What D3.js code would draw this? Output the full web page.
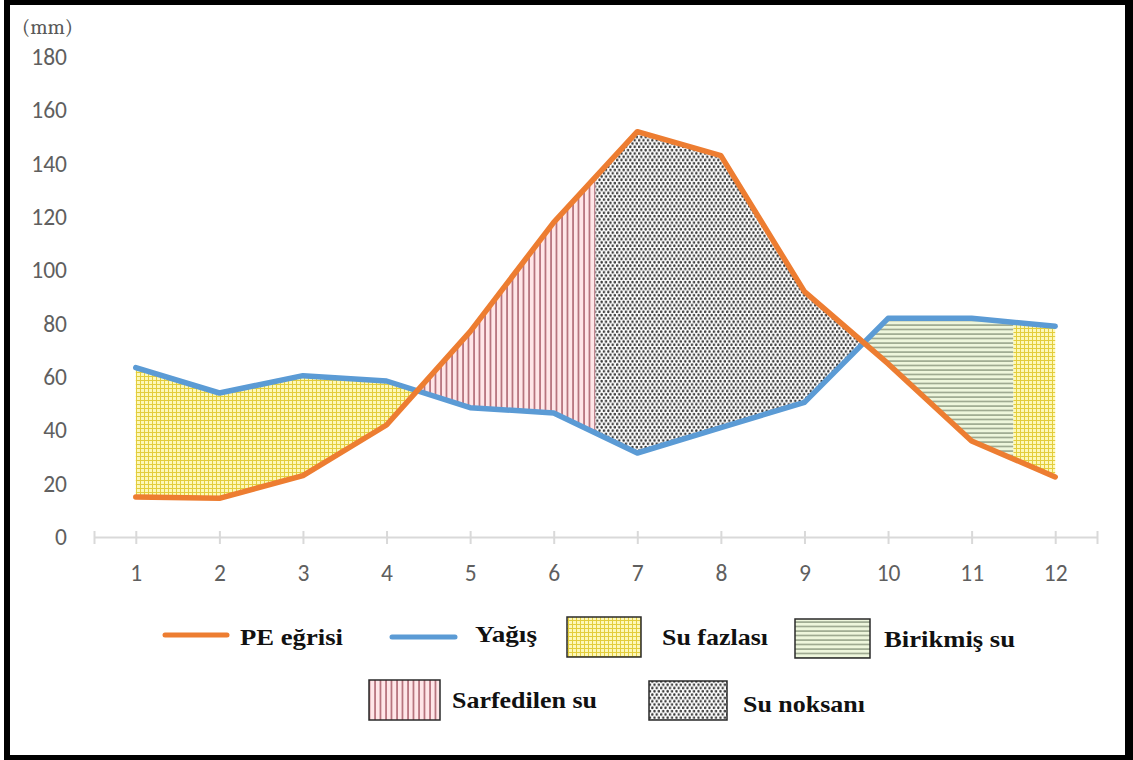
<!DOCTYPE html>
<html>
<head>
<meta charset="utf-8">
<script src="https://cdn.jsdelivr.net/npm/d3@7"></script>
<style>
  body { margin: 0; background: #fff; }
  svg { display: block; }
</style>
</head>
<body>
<svg id="chart" width="1133" height="760"></svg>
<script>
// Monthly water balance (mm)
const months = [1, 2, 3, 4, 5, 6, 7, 8, 9, 10, 11, 12];
const peValues = [15, 14.5, 23, 42, 77, 118, 152, 143, 92, 65, 36, 22.5];
const rainValues = [63.5, 54, 60.5, 58.5, 48.5, 46.5, 31.5, 41, 50.5, 82, 82, 79];
const yTicks = [0, 20, 40, 60, 80, 100, 120, 140, 160, 180];
// month positions where soil water use ends and where storage is full again
const phaseBreaks = [6.5, 11.5];
const unitLabel = "(mm)";
const seriesNames = ["PE eğrisi", "Yağış"];
const zoneNames = { fazla: "Su fazlası", birik: "Birikmiş su", sarf: "Sarfedilen su", noksan: "Su noksanı" };

const W = 1133, H = 760;
const svg = d3.select("#chart");
const defs = svg.append("defs");

const x = d3.scaleLinear().domain([0.5, 12.5]).range([94, 1097]);
const y = d3.scaleLinear().domain([0, 180]).range([537, 57]);

const ORANGE = "#ed7d31", BLUE = "#5b9bd5";
const TICK_FONT = "Carlito, Calibri, Lato, sans-serif";

// ---- fill patterns ----
function pattern(id, w, h, bg) {
  const p = defs.append("pattern").attr("id", id).attr("patternUnits", "userSpaceOnUse")
    .attr("width", w).attr("height", h);
  p.append("rect").attr("width", w).attr("height", h).attr("fill", bg);
  return p;
}
// yellow grid
const pGrid = pattern("p-fazla", 4, 4, "#fdf8b8");
pGrid.append("path").attr("d", "M0,0.5H4M0.5,0V4").attr("stroke", "#e3cd3c").attr("stroke-width", 1);
// red vertical hatch
const pSarf = pattern("p-sarf", 5.5, 10, "#ffe6e8");
pSarf.append("path").attr("d", "M1,0V10").attr("stroke", "#8a2d3c").attr("stroke-width", 1.1);
// grey dots
const pDot = pattern("p-noksan", 4.4, 6.6, "#ffffff");
pDot.append("circle").attr("cx", 1.1).attr("cy", 1.65).attr("r", 1.3).attr("fill", "#3c3c3c");
pDot.append("circle").attr("cx", 3.3).attr("cy", 4.95).attr("r", 1.3).attr("fill", "#3c3c3c");
// green horizontal hatch
const pBirik = pattern("p-birik", 10, 4.5, "#eef6dc");
pBirik.append("path").attr("d", "M0,1H10").attr("stroke", "#4e5e44").attr("stroke-width", 0.9);

// ---- helpers ----
function valueAt(arr, m) {
  const i = Math.min(Math.max(Math.floor(m) - 1, 0), arr.length - 2);
  const t = m - months[i];
  return arr[i] + (arr[i + 1] - arr[i]) * t;
}
const crossings = [];
for (let i = 0; i < months.length - 1; i++) {
  const d0 = peValues[i] - rainValues[i], d1 = peValues[i + 1] - rainValues[i + 1];
  if (d0 * d1 < 0) crossings.push(months[i] + d0 / (d0 - d1));
}
const zones = [
  { id: "fazla", a: months[0], b: crossings[0] },
  { id: "sarf", a: crossings[0], b: phaseBreaks[0] },
  { id: "noksan", a: phaseBreaks[0], b: crossings[1] },
  { id: "birik", a: crossings[1], b: phaseBreaks[1] },
  { id: "fazla", a: phaseBreaks[1], b: months[months.length - 1] }
];
function zonePoints(a, b) {
  const ms = [a, ...months.filter(m => m > a && m < b), b];
  return ms.map(m => ({ m, pe: valueAt(peValues, m), rain: valueAt(rainValues, m) }));
}

// ---- zones ----
const area = d3.area().x(d => x(d.m)).y0(d => y(d.pe)).y1(d => y(d.rain));
svg.append("g").selectAll("path").data(zones).join("path")
  .attr("d", d => area(zonePoints(d.a, d.b)))
  .attr("fill", d => `url(#p-${d.id})`);

// ---- axes ----
const yAxis = svg.append("g").attr("transform", "translate(70,0)")
  .call(d3.axisLeft(y).tickValues(yTicks).tickSize(0).tickPadding(3));
yAxis.select(".domain").remove();
yAxis.selectAll("text").attr("fill", "#5f5f5f").attr("font-size", 23.5)
  .attr("font-family", TICK_FONT);

const xAxis = svg.append("g").attr("transform", `translate(0,${y(0)})`)
  .call(d3.axisBottom(x).tickValues([0.5, ...months, 12.5]).tickSizeOuter(0)
    .tickFormat(d => Number.isInteger(d) ? d : ""));
xAxis.select(".domain").attr("stroke", "#d9d9d9").attr("stroke-width", 2);
xAxis.selectAll(".tick line").attr("y1", -6).attr("y2", 7).attr("stroke", "#d9d9d9").attr("stroke-width", 2);
xAxis.selectAll("text").attr("y", 27).attr("fill", "#5f5f5f").attr("font-size", 23.5)
  .attr("font-family", TICK_FONT);

svg.append("text").attr("x", 22).attr("y", 34).text(unitLabel)
  .attr("font-family", "Cambria, 'Liberation Serif', serif").attr("font-size", 20)
  .attr("fill", "#595959").attr("textLength", 51).attr("lengthAdjust", "spacingAndGlyphs");

// ---- lines ----
const line = d3.line().x((d, i) => x(months[i])).y(d => y(d));
svg.append("path").datum(rainValues).attr("d", line).attr("fill", "none")
  .attr("stroke", BLUE).attr("stroke-width", 5.5).attr("stroke-linejoin", "round").attr("stroke-linecap", "round");
svg.append("path").datum(peValues).attr("d", line).attr("fill", "none")
  .attr("stroke", ORANGE).attr("stroke-width", 5.5).attr("stroke-linejoin", "round").attr("stroke-linecap", "round");

// ---- legend ----
const lg = svg.append("g").attr("font-family", "'Liberation Serif', 'Times New Roman', serif")
  .attr("font-weight", "bold").attr("font-size", 23).attr("fill", "#111");
const legendLines = [
  { name: seriesNames[0], color: ORANGE, x1: 165, x2: 227, y: 635, tx: 240, ty: 645, tw: 103 },
  { name: seriesNames[1], color: BLUE, x1: 392, x2: 455, y: 637, tx: 475, ty: 642, tw: 62 }
];
legendLines.forEach(d => {
  lg.append("line").attr("x1", d.x1).attr("x2", d.x2).attr("y1", d.y).attr("y2", d.y)
    .attr("stroke", d.color).attr("stroke-width", 5).attr("stroke-linecap", "round");
  lg.append("text").attr("x", d.tx).attr("y", d.ty).text(d.name)
    .attr("textLength", d.tw).attr("lengthAdjust", "spacingAndGlyphs");
});
const legendBoxes = [
  { id: "fazla", x: 567, y: 617, w: 74, h: 40, tx: 662, ty: 645, tw: 106 },
  { id: "birik", x: 795, y: 619, w: 75, h: 39, tx: 884, ty: 647, tw: 131 },
  { id: "sarf", x: 369, y: 680, w: 71, h: 40, tx: 452, ty: 708, tw: 145 },
  { id: "noksan", x: 649, y: 681, w: 78, h: 39, tx: 743, ty: 712, tw: 122 }
];
legendBoxes.forEach(d => {
  lg.append("rect").attr("x", d.x).attr("y", d.y).attr("width", d.w).attr("height", d.h)
    .attr("fill", `url(#p-${d.id})`).attr("stroke", "#2a2a2a").attr("stroke-width", 1.5);
  lg.append("text").attr("x", d.tx).attr("y", d.ty).text(zoneNames[d.id])
    .attr("textLength", d.tw).attr("lengthAdjust", "spacingAndGlyphs");
});

// ---- frame ----
const frame = svg.append("g").attr("fill", "#000");
frame.append("rect").attr("x", 4).attr("y", 0).attr("width", W - 4).attr("height", 5);
frame.append("rect").attr("x", 4).attr("y", 0).attr("width", 6).attr("height", H);
frame.append("rect").attr("x", 1125).attr("y", 0).attr("width", 8).attr("height", H);
frame.append("rect").attr("x", 4).attr("y", 755).attr("width", W - 4).attr("height", 5);
</script>
</body>
</html>
